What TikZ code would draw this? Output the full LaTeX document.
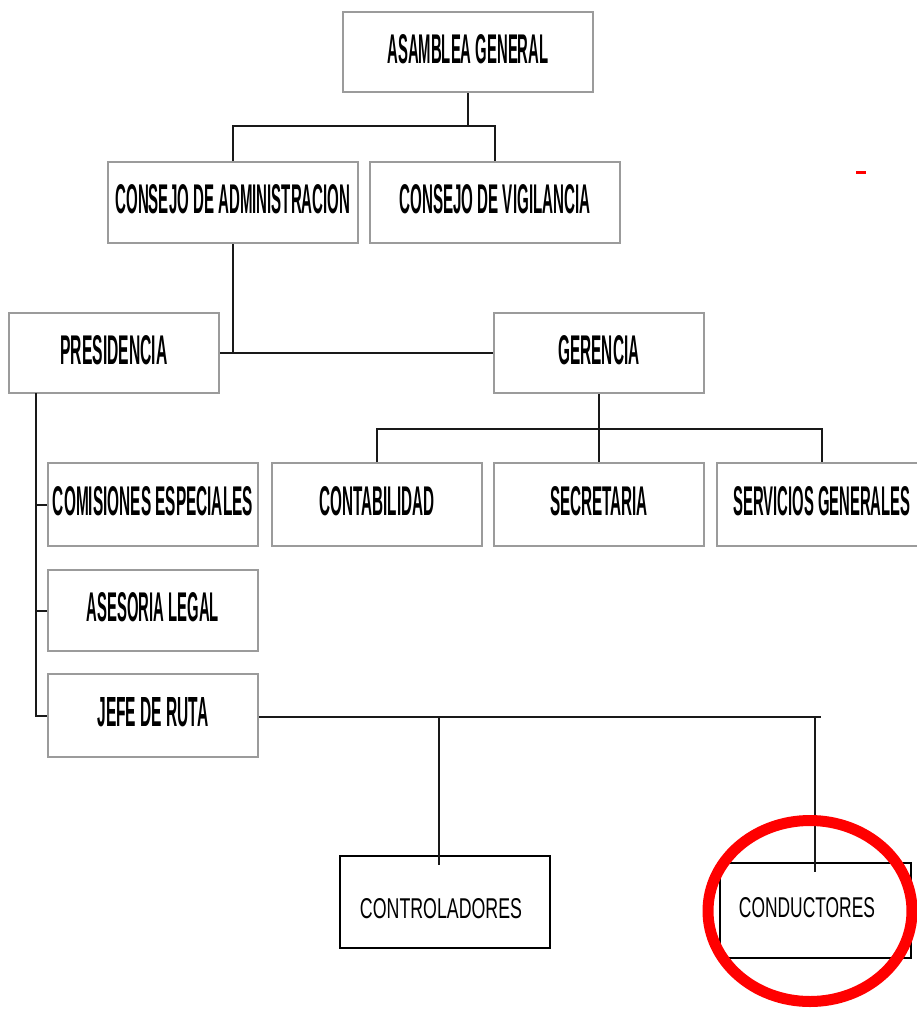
\documentclass[tikz,border=0pt]{standalone}
\usepackage{fontspec}
\setmainfont{Liberation Sans}
\usepackage{graphicx}
\definecolor{boxgray}{RGB}{155,155,155}
\definecolor{linecol}{RGB}{25,25,25}
\newcommand{\uptext}[2]{\raisebox{3.5pt}[29pt][0pt]{\resizebox{#1}{29pt}{\bfseries #2}}}
\newcommand{\lowtext}[4]{\raisebox{#2}[20pt][0pt]{\makebox[0pt]{\hspace{#1}\resizebox{#3}{20pt}{#4}}}}
\begin{document}
\begin{tikzpicture}[x=1pt,y=-1pt,
  orgbox/.style={draw=boxgray, line width=2pt, fill=white, rectangle, inner sep=0pt},
  upbox/.style={orgbox, minimum width=210pt, minimum height=82pt},
  lowbox/.style={draw=black, line width=2.5pt, fill=white, rectangle, inner sep=0pt},
  conn/.style={draw=linecol, line width=2pt},
  redmark/.style={draw=red, line width=11pt}]
\useasboundingbox (0,0) rectangle (917,1010);
\fill[white] (0,0) rectangle (917,1010);

% boxes
\node[orgbox, minimum width=250pt, minimum height=80pt] (AG) at (468,52) {\uptext{161pt}{ASAMBLEA GENERAL}};
\node[orgbox, minimum width=250pt, minimum height=81pt] (CDA) at (233,202.5) {\uptext{235pt}{CONSEJO DE ADMINISTRACION}};
\node[orgbox, minimum width=250pt, minimum height=81pt] (CDV) at (495,202.5) {\uptext{191pt}{CONSEJO DE VIGILANCIA}};
\node[upbox, minimum height=80pt] (PRES) at (114,353) {\uptext{107pt}{PRESIDENCIA}};
\node[upbox, minimum height=80pt] (GER) at (599,353) {\uptext{81pt}{GERENCIA}};
\node[upbox, minimum height=83pt] (CONT) at (377,504.5) {\uptext{115pt}{CONTABILIDAD}};
\node[upbox, minimum height=83pt] (SEC) at (599,504.5) {\uptext{98pt}{SECRETARIA}};
\node[upbox, minimum height=83pt] (SERV) at (822,504.5) {\uptext{177pt}{SERVICIOS GENERALES}};
\node[upbox, minimum height=83pt] (COM) at (153,504.5) {\uptext{200pt}{COMISIONES ESPECIALES}};
\node[upbox, minimum height=81pt] (ASE) at (153,610.5) {\uptext{132pt}{ASESORIA LEGAL}};
\node[upbox, minimum height=83pt] (JEFE) at (153,715.5) {\uptext{111pt}{JEFE DE RUTA}};
\node[lowbox, minimum width=210pt, minimum height=92pt] (CTRL) at (445,902) {\lowtext{-8pt}{-6pt}{162pt}{CONTROLADORES}};
\node[lowbox, minimum width=191pt, minimum height=95pt] (COND) at (815.5,910.5) {\lowtext{-17pt}{3.5pt}{136pt}{CONDUCTORES}};

% junction coordinates
\coordinate (j1) at (468,126);
\coordinate (j2) at (599,429);
\coordinate (ps) at (36,393);
\coordinate (j3) at (821,716.5);
\coordinate (c1) at (439,716.5);
\coordinate (c1e) at (439,865);
\coordinate (c2) at (815,716.5);
\coordinate (c2e) at (815,872);

% connectors
\draw[conn] (AG.south) -- (j1);
\draw[conn] (CDA.north) |- (j1) -| (CDV.north);
\draw[conn] (CDA.south) -- (CDA.south |- PRES.east);
\draw[conn] (PRES.east) -- (GER.west);
\draw[conn] (GER.south) -- (j2);
\draw[conn] (CONT.north) |- (j2) -| (SERV.north);
\draw[conn] (j2) -- (SEC.north);
\draw[conn] (ps) |- (JEFE.west);
\draw[conn] (ps |- COM.west) -- (COM.west);
\draw[conn] (ps |- ASE.west) -- (ASE.west);
\draw[conn] (JEFE.east |- j3) -- (j3);
\draw[conn] (c1) -- (c1e);
\draw[conn] (c2) -- (c2e);

% red marks
\draw[redmark] (810,911) ellipse [x radius=102pt, y radius=90.5pt];
\draw[draw=red, line width=2.5pt] (856,172.5) -- (866,172.5);
\end{tikzpicture}
\end{document}
